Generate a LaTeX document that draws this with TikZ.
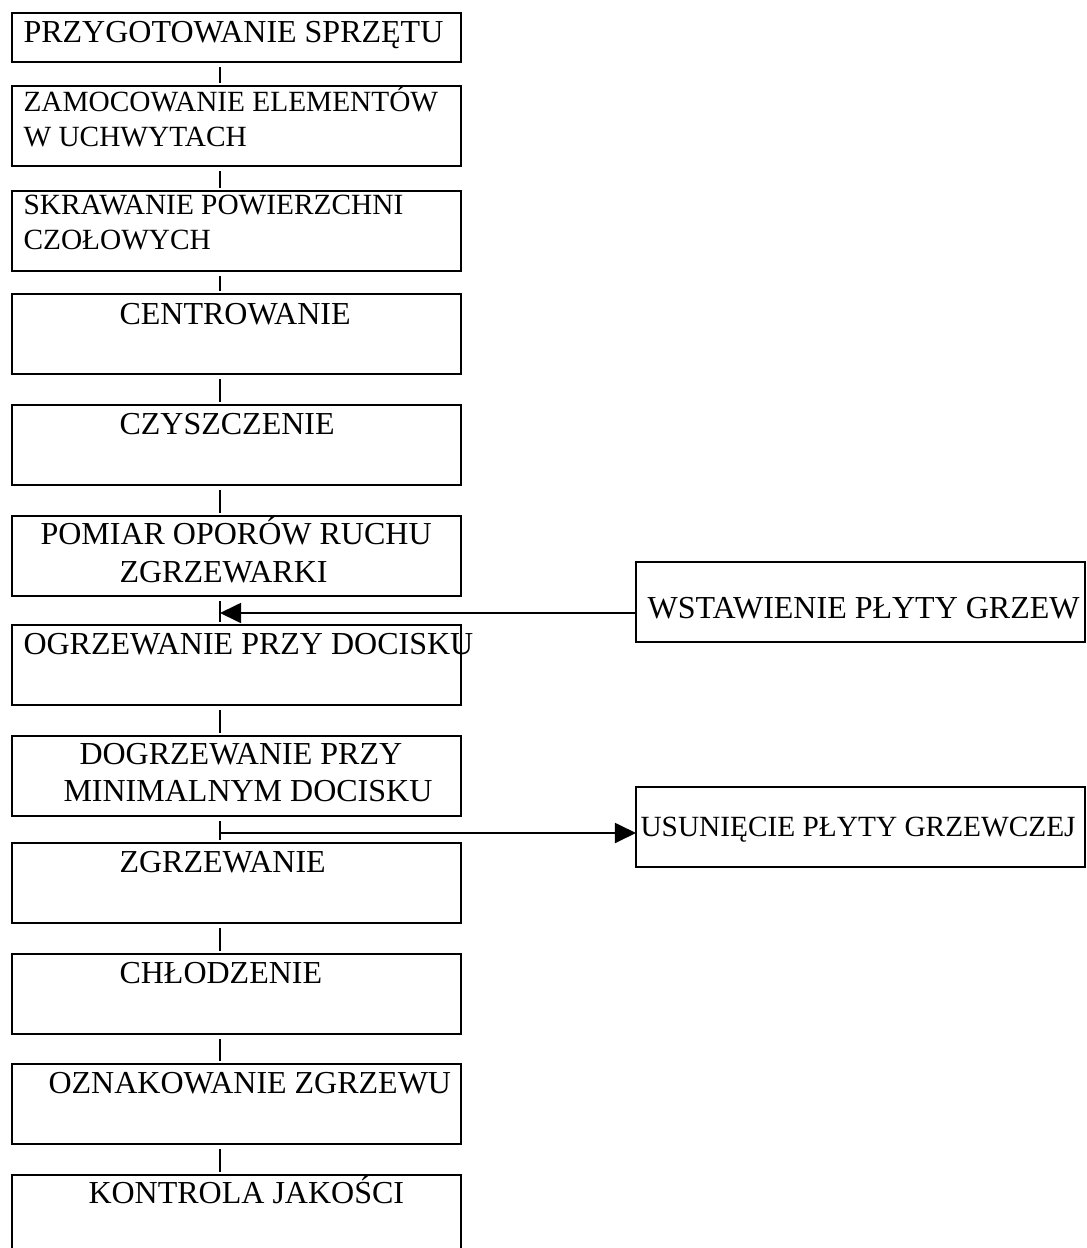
\documentclass[tikz,border=0pt]{standalone}
\usepackage{fontspec}
\setmainfont{Liberation Serif}
\usetikzlibrary{arrows.meta}
\tikzset{
  krok/.style={draw, line width=0.6pt, anchor=north west, outer sep=0pt, inner sep=0pt,
    minimum width=168.4pt, minimum height=30pt},
  napis/.style={anchor=base west, inner sep=0pt, font=\fontsize{12}{14}\selectfont},
  napism/.style={napis, font=\fontsize{11}{13}\selectfont},
  laczenie/.style={line width=0.4pt, shorten <=2pt, shorten >=1.1pt},
  strzalka/.style={line width=0.75pt, -{Triangle[length=7.9pt,width=7.5pt]}}
}

\begin{document}
\begin{tikzpicture}[x=0.375pt, y=-0.375pt]
  \useasboundingbox (0,0) rectangle (1086,1248);
  \clip (0,0) rectangle (1086,1248);
  % kolumna etapow
  \node[krok, minimum height=18.4pt] (b1) at (12,13) {};
  \node[krok] (b2) at (12,86) {};
  \node[krok] (b3) at (12,191) {};
  \node[krok] (b4) at (12,294) {};
  \node[krok] (b5) at (12,405) {};
  \node[krok] (b6) at (12,516) {};
  \node[krok] (b7) at (12,625) {};
  \node[krok] (b8) at (12,736) {};
  \node[krok] (b9) at (12,843) {};
  \node[krok] (b10) at (12,954) {};
  \node[krok] (b11) at (12,1064) {};
  \node[krok] (b12) at (12,1175) {};
  % bloki boczne
  \node[krok] (wst) at (636,562) {};
  \node[krok] (usu) at (636,787) {};
  % napisy
  \node[napis] (t1) at (23,43) {PRZYGOTOWANIE SPRZĘTU};
  \node[napism] (t2a) at (23,112) {ZAMOCOWANIE ELEMENTÓW};
  \node[napism] (t2b) at (23,147) {W UCHWYTACH};
  \node[napism] (t3a) at (23,215) {SKRAWANIE POWIERZCHNI};
  \node[napism] (t3b) at (23,250) {CZOŁOWYCH};
  \node[napis] (t4) at (119,324) {CENTROWANIE};
  \node[napis] (t5) at (119,434) {CZYSZCZENIE};
  \node[napis] (t6a) at (40,544) {POMIAR OPORÓW RUCHU};
  \node[napis] (t6b) at (119,582) {ZGRZEWARKI};
  \node[napis] (t7) at (23,654) {OGRZEWANIE PRZY DOCISKU};
  \node[napis] (t8a) at (79,764) {DOGRZEWANIE PRZY};
  \node[napis] (t8b) at (63,801) {MINIMALNYM DOCISKU};
  \node[napis] (t9) at (119,872) {ZGRZEWANIE};
  \node[napis] (t10) at (119,983) {CHŁODZENIE};
  \node[napis] (t11) at (48,1093) {OZNAKOWANIE ZGRZEWU};
  \node[napis] (t12) at (88,1203) {KONTROLA JAKOŚCI};
  \node[napis] (twst) at (647,618) {WSTAWIENIE PŁYTY GRZEW};
  \node[napism] (tusu) at (640,836) {USUNIĘCIE PŁYTY GRZEWCZEJ};
  % polaczenia
  \coordinate (os) at (220,0);
  \draw[laczenie] (b1.south -| os) -- (b2.north -| os);
  \draw[laczenie] (b2.south -| os) -- (b3.north -| os);
  \draw[laczenie] (b3.south -| os) -- (b4.north -| os);
  \draw[laczenie] (b4.south -| os) -- (b5.north -| os);
  \draw[laczenie] (b5.south -| os) -- (b6.north -| os);
  \draw[laczenie] (b6.south -| os) -- (b7.north -| os);
  \draw[laczenie] (b7.south -| os) -- (b8.north -| os);
  \draw[laczenie] (b8.south -| os) -- (b9.north -| os);
  \draw[laczenie] (b9.south -| os) -- (b10.north -| os);
  \draw[laczenie] (b10.south -| os) -- (b11.north -| os);
  \draw[laczenie] (b11.south -| os) -- (b12.north -| os);
  % strzalki
  \coordinate (j1) at (220,613);
  \coordinate (j2) at (220,833);
  \draw[strzalka] (wst.west |- j1) -- (j1);
  \draw[strzalka] (j2) -- (j2 -| usu.west);
\end{tikzpicture}
\end{document}
